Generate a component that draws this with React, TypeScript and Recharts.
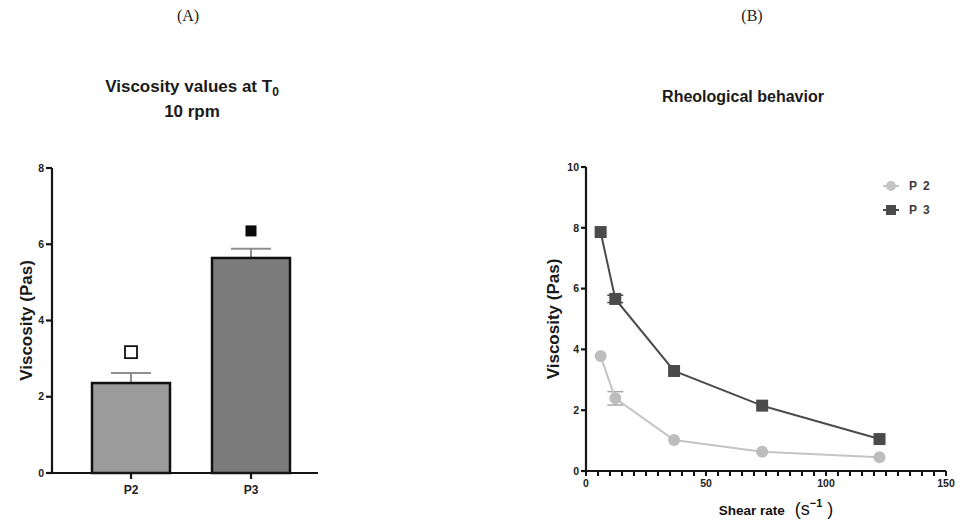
import {
  ComposedChart,
  Bar,
  Scatter,
  Line,
  XAxis,
  YAxis,
  ErrorBar,
  Legend,
} from "recharts";

// (A) viscosity at T0, 10 rpm
const groups = ["P2", "P3"];
const meanViscosity = [2.36, 5.64];
const semViscosity = [0.26, 0.24];
const markLevel = [3.17, 6.35];
const barFills = ["#9b9b9b", "#7b7b7b"];
const barYTicks = [0, 2, 4, 6, 8];

// (B) rheological behaviour
const shearRate = [6.1, 12.2, 36.7, 73.4, 122.3];
const p2Viscosity = [3.78, 2.39, 1.02, 0.63, 0.45];
const p2Error = [0, 0.22, 0, 0, 0];
const p3Viscosity = [7.86, 5.66, 3.29, 2.15, 1.05];
const p3Error = [0, 0.12, 0, 0, 0];
const rheoYTicks = [0, 2, 4, 6, 8, 10];
const rheoXTicks = [
  0, 5, 10, 15, 20, 25, 30, 35, 40, 45, 50, 55, 60, 65, 70, 75, 80, 85, 90,
  95, 100, 105, 110, 115, 120, 125, 130, 135, 140, 145, 150,
];
const rheoXLabels = [0, 50, 100, 150];

const barData = groups.map((name, i) => ({
  name,
  mean: meanViscosity[i],
  sem: semViscosity[i],
  mark: markLevel[i],
  fill: barFills[i],
}));

const rheoData = shearRate.map((rate, i) => ({
  rate,
  p2: p2Viscosity[i],
  p2err: p2Error[i],
  p3: p3Viscosity[i],
  p3err: p3Error[i],
}));

const sans = "'Liberation Sans', Arial, sans-serif";
const axisStyle = { stroke: "#151515", strokeWidth: 2.2 };
const tickStyle = { fontSize: 10.5, fontWeight: 700, fill: "#222", fontFamily: sans };
const yLabelStyle = {
  textAnchor: "middle",
  fontSize: 17,
  fontWeight: 700,
  fill: "#1a1a1a",
  fontFamily: sans,
};

function BarWithError(props: any) {
  const { x, y, width, height, payload } = props;
  const perUnit = height / payload.mean;
  const top = y - payload.sem * perUnit;
  const cx = x + width / 2;
  return (
    <g>
      <line x1={cx} x2={cx} y1={y} y2={top} stroke="#8e8e8e" strokeWidth={2} />
      <line x1={cx - 20} x2={cx + 20} y1={top} y2={top} stroke="#8e8e8e" strokeWidth={2} />
      <rect
        x={x}
        y={y}
        width={width}
        height={height}
        fill={payload.fill}
        stroke="#111"
        strokeWidth={2.5}
      />
    </g>
  );
}

function MarkShape(props: any) {
  const { cx, cy, payload } = props;
  if (payload.name === "P2") {
    return (
      <rect x={cx - 6} y={cy - 6} width={12} height={12} fill="#fff" stroke="#111" strokeWidth={1.8} />
    );
  }
  return <rect x={cx - 5.5} y={cy - 5.5} width={11} height={11} fill="#0a0a0a" />;
}

function CircleDot(props: any) {
  const { cx, cy, index } = props;
  return <circle key={`c${index}`} cx={cx} cy={cy} r={6} fill="#bdbdbd" />;
}

function SquareDot(props: any) {
  const { cx, cy, index } = props;
  return <rect key={`s${index}`} x={cx - 6} y={cy - 6} width={12} height={12} fill="#4b4b4b" />;
}

function ShearLabel(props: any) {
  const { viewBox } = props;
  const cx = viewBox.x + viewBox.width / 2 + 10;
  return (
    <text x={cx} y={515} textAnchor="middle" fontFamily={sans} fill="#111">
      <tspan fontSize={13.5} fontWeight={700}>Shear rate</tspan>
      <tspan fontSize={18} dx={10}>(s</tspan>
      <tspan fontSize={11} dy={-8} fontWeight={700}>−1</tspan>
      <tspan fontSize={18} dy={8}> )</tspan>
    </text>
  );
}

function RheoLegend(props: any) {
  const items = props.payload || [];
  return (
    <div style={{ fontFamily: sans }}>
      {items.map((entry: any, i: number) => (
        <div key={i} style={{ display: "flex", alignItems: "center", height: 24 }}>
          <svg width={20} height={14}>
            <line x1={2} x2={18} y1={7} y2={7} stroke={entry.color} strokeWidth={2} />
            {i === 0 ? (
              <circle cx={10} cy={7} r={5} fill={entry.color} />
            ) : (
              <rect x={5} y={2} width={10} height={10} fill={entry.color} />
            )}
          </svg>
          <span style={{ marginLeft: 8, fontSize: 12, fontWeight: 700, color: "#3a3a3a", letterSpacing: 1.5 }}>
            {entry.value}
          </span>
        </div>
      ))}
    </div>
  );
}

const titleStyle: any = {
  position: "absolute",
  fontFamily: sans,
  fontWeight: 700,
  color: "#1a1a1a",
  textAlign: "center",
  whiteSpace: "nowrap",
  lineHeight: "20px",
};

const panelLetter: any = {
  position: "absolute",
  top: 7,
  width: 40,
  textAlign: "center",
  fontFamily: "'Liberation Serif', serif",
  fontSize: 16,
  color: "#222",
};

export default function App() {
  return (
    <div
      style={{
        position: "absolute",
        left: 0,
        top: 0,
        width: 960,
        height: 524,
        background: "#fff",
        overflow: "hidden",
      }}
    >
      <div style={{ ...panelLetter, left: 168 }}>(A)</div>
      <div style={{ ...panelLetter, left: 732 }}>(B)</div>

      <div style={{ ...titleStyle, left: 92, top: 77, width: 200, fontSize: 17 }}>
        Viscosity values at T
        <span style={{ fontSize: 12, position: "relative", top: 4 }}>0</span>
      </div>
      <div style={{ ...titleStyle, left: 92, top: 102, width: 200, fontSize: 17 }}>
        10 rpm
      </div>
      <div style={{ ...titleStyle, left: 643, top: 87, width: 200, fontSize: 16 }}>
        Rheological behavior
      </div>

      <div style={{ position: "absolute", left: 0, top: 0 }}>
        <ComposedChart
          width={340}
          height={524}
          data={barData}
          margin={{ top: 168, right: 22, bottom: 21, left: 12 }}
        >
          <XAxis
            dataKey="name"
            height={30}
            padding={{ left: 19, right: 7 }}
            axisLine={axisStyle}
            tickLine={axisStyle}
            tickSize={6}
            tickMargin={6}
            tick={{ ...tickStyle, fontSize: 12 }}
          />
          <YAxis
            domain={[0, 8]}
            ticks={barYTicks}
            width={40}
            axisLine={axisStyle}
            tickLine={axisStyle}
            tickSize={6}
            tickMargin={2}
            tick={tickStyle}
            label={{
              value: "Viscosity (Pas)",
              angle: -90,
              position: "insideLeft",
              offset: 14,
              style: yLabelStyle,
            }}
          />
          <Bar dataKey="mean" barSize={78} shape={<BarWithError />} isAnimationActive={false} />
          <Scatter dataKey="mark" shape={<MarkShape />} isAnimationActive={false} />
        </ComposedChart>
      </div>

      <div style={{ position: "absolute", left: 480, top: 0 }}>
        <ComposedChart
          width={480}
          height={524}
          data={rheoData}
          margin={{ top: 167, right: 14, bottom: 23, left: 66 }}
        >
          <XAxis
            type="number"
            dataKey="rate"
            domain={[0, 150]}
            ticks={rheoXTicks}
            interval={0}
            height={30}
            axisLine={axisStyle}
            tickLine={{ stroke: "#151515", strokeWidth: 2 }}
            tickSize={5}
            tickMargin={4}
            tick={tickStyle}
            tickFormatter={(v: number) => (rheoXLabels.includes(v) ? String(v) : "")}
            label={<ShearLabel />}
          />
          <YAxis
            domain={[0, 10]}
            ticks={rheoYTicks}
            width={40}
            axisLine={axisStyle}
            tickLine={axisStyle}
            tickSize={5}
            tickMargin={2}
            tick={tickStyle}
            label={{
              value: "Viscosity (Pas)",
              angle: -90,
              position: "insideLeft",
              offset: 7,
              style: yLabelStyle,
            }}
          />
          <Legend
            layout="vertical"
            align="center"
            verticalAlign="middle"
            content={<RheoLegend />}
            wrapperStyle={{ position: "absolute", left: 401, top: 174, width: 70 }}
          />
          <Line
            dataKey="p2"
            name="P 2"
            stroke="#c4c4c4"
            strokeWidth={2}
            dot={CircleDot}
            activeDot={false}
            isAnimationActive={false}
          >
            <ErrorBar dataKey="p2err" direction="y" width={8} stroke="#a8a8a8" strokeWidth={1.5} />
          </Line>
          <Line
            dataKey="p3"
            name="P 3"
            stroke="#4b4b4b"
            strokeWidth={2}
            dot={SquareDot}
            activeDot={false}
            isAnimationActive={false}
          >
            <ErrorBar dataKey="p3err" direction="y" width={8} stroke="#4b4b4b" strokeWidth={1.5} />
          </Line>
        </ComposedChart>
      </div>
    </div>
  );
}
